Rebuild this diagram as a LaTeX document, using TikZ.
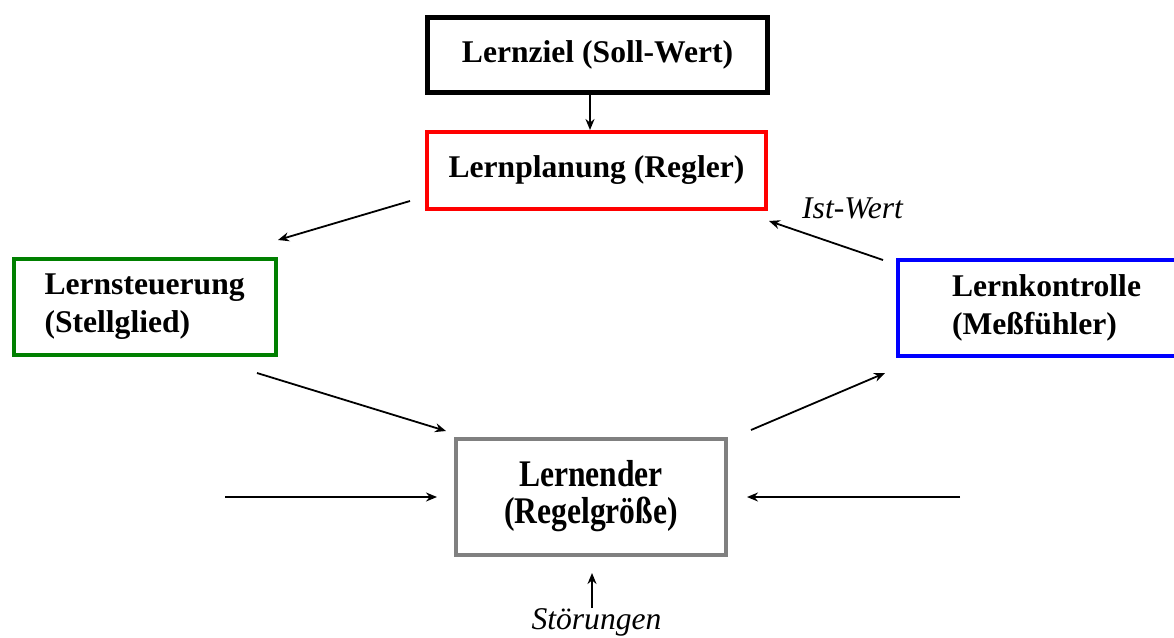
\documentclass[tikz,border=0pt]{standalone}
\usepackage{fontspec}
\setmainfont{Liberation Serif}
\usepackage{graphicx}
\usetikzlibrary{arrows.meta}
\definecolor{boxgreen}{HTML}{008000}
\definecolor{boxgray}{HTML}{808080}
\begin{document}
\begin{tikzpicture}[x=1pt,y=-1pt,
  box/.style={draw, rectangle, inner sep=0pt, font=\fontsize{31.6}{38}\selectfont\bfseries},
  arr/.style={line width=1.8pt, -{Stealth[length=11pt,width=9pt]}},
  lbl/.style={font=\fontsize{31.6}{38}\selectfont\itshape, inner sep=0pt}]
\useasboundingbox (0,0) rectangle (1174,637);
% boxes
\node[box, line width=5pt, minimum width=340pt, minimum height=75pt] (lz) at (597.5,55) {Lernziel (Soll-Wert)};
\node[box, draw=red, line width=4pt, minimum width=339pt, minimum height=77pt] (lp) at (596.5,170.5) {Lernplanung (Regler)};
\node[box, draw=boxgreen, line width=4.5pt, minimum width=262pt, minimum height=96pt,
      text width=201pt, align=left, inner xsep=30.5pt] (ls) at (145,307) {Lernsteuerung\\(Stellglied)};
\node[box, draw=blue, line width=4pt, minimum width=300pt, minimum height=96pt,
      text width=192pt, align=left, inner xsep=54pt] (lk) at (1048,308) {Lernkontrolle\\(Meßfühler)};
\node[box, draw=boxgray, line width=4pt, minimum width=270pt, minimum height=116pt] (le) at (591,497)
  {\scalebox{1}[1.19]{\fontsize{31.6}{28}\selectfont\begin{tabular}{@{}c@{}}Lernender\\(Regelgröße)\end{tabular}}};
% labels
\node[lbl, anchor=base west] (iw) at (802,218) {Ist-Wert};
\node[lbl, anchor=base] (st) at (596.5,629) {Störungen};
% connector end points
\coordinate (c1) at (590,0);
\coordinate (a2s) at (410,201);  \coordinate (a2e) at (278,240);
\coordinate (a3s) at (257,373);  \coordinate (a3e) at (446,431);
\coordinate (a4s) at (751,430);  \coordinate (a4e) at (885,373);
\coordinate (a5s) at (883,260);  \coordinate (a5e) at (769,221);
\coordinate (a6s) at (225,497);  \coordinate (a6e) at (437,497);
\coordinate (a7s) at (960,497);  \coordinate (a7e) at (747,497);
\coordinate (a8s) at (592,608);  \coordinate (a8e) at (592,573);
% connectors
\draw[arr] (lz.south -| c1) -- (lp.north -| c1);
\draw[arr] (a2s) -- (a2e);
\draw[arr] (a3s) -- (a3e);
\draw[arr] (a4s) -- (a4e);
\draw[arr] (a5s) -- (a5e);
\draw[arr] (a6s) -- (a6e);
\draw[arr] (a7s) -- (a7e);
\draw[arr] (a8s) -- (a8e);
\end{tikzpicture}
\end{document}
